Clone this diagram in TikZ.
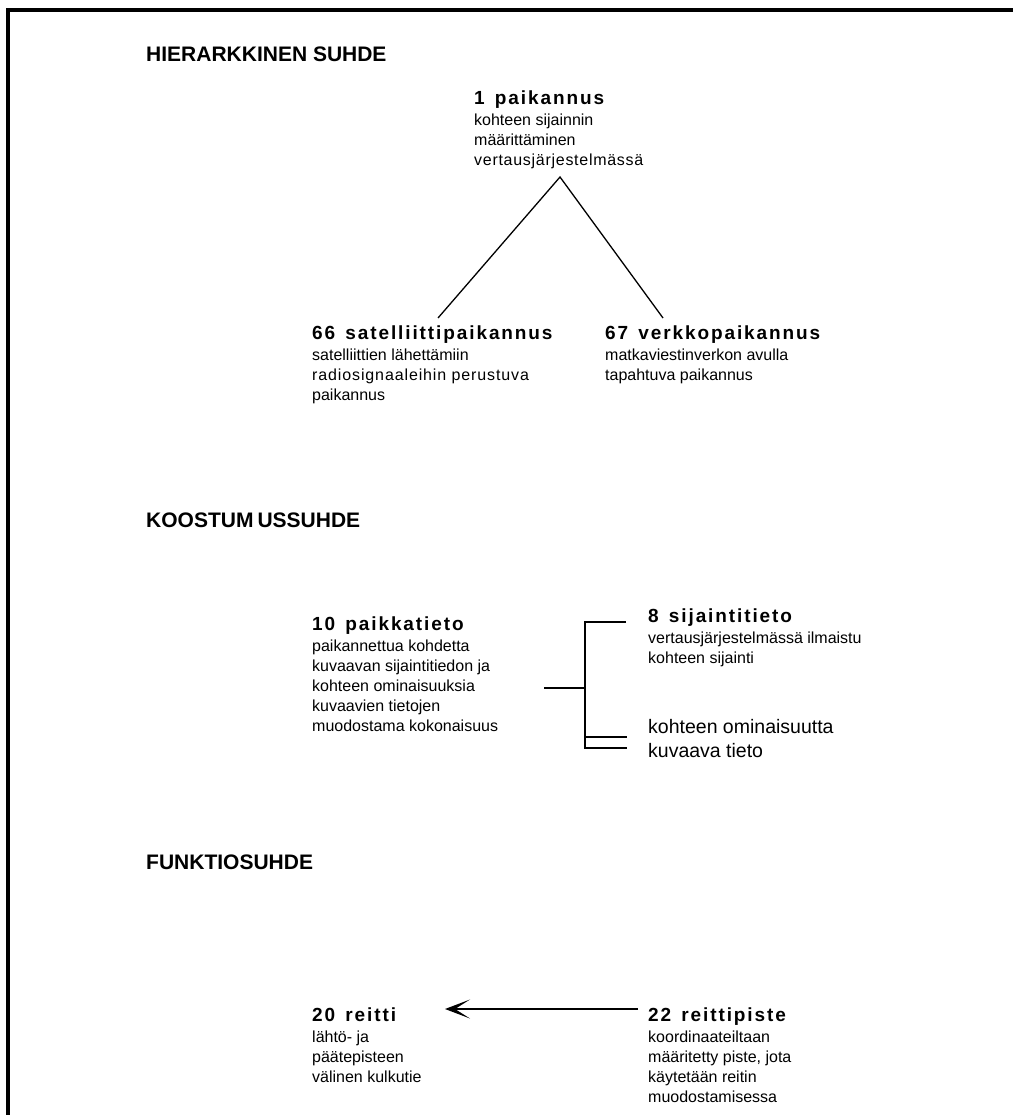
\documentclass[tikz,border=0pt]{standalone}
\usepackage{fontspec}
\setmainfont{Liberation Sans}
\newfontfamily\termfamily{Liberation Sans}[LetterSpace=10]
\usetikzlibrary{arrows.meta}
% bold, tracked term heading: number and term
\newcommand\conceptterm[2]{\rule{0pt}{14pt}{\termfamily\bfseries\fontsize{19}{20}\selectfont #1\hspace{3pt} #2}}
% a definition line set slightly wider
\newcommand\wideline[2]{{\addfontfeatures{LetterSpace=#1}#2}}
\begin{document}
\begin{tikzpicture}[x=1pt,y=-1pt,
  header/.style={anchor=base west, inner sep=0, font=\fontsize{21}{25}\selectfont\bfseries},
  concept/.style={anchor=north west, inner sep=0, align=left, font=\fontsize{16}{20}\selectfont},
  link/.style={line width=1.3pt},
  frame/.style={line width=3.3pt, line join=miter},
]
\useasboundingbox (0,0) rectangle (1013,1115);
% open frame: left and top edges
\draw[frame] (8,1115) -- (8,10) -- (1013,10);

% section headings
\node[header] (h1) at (146,62) {HIERARKKINEN SUHDE};
\node[header] (h2) at (146,527) {KOOSTUM\kern4pt USSUHDE};
\node[header] (h3) at (146,869) {FUNKTIOSUHDE};

% hierarchical relation
\node[concept] (n1) at (474,90) {\conceptterm{1}{paikannus}\\[1pt]
  kohteen sijainnin\\ määrittäminen\\ \wideline{4.5}{vertausjärjestelmässä}};
\node[concept] (n66) at (312,325) {\conceptterm{66}{satelliittipaikannus}\\[1pt]
  satelliittien lähettämiin\\ \wideline{5.5}{radiosignaaleihin perustuva}\\ paikannus};
\node[concept] (n67) at (605,325) {\conceptterm{67}{verkkopaikannus}\\[1pt]
  matkaviestinverkon avulla\\ tapahtuva paikannus};
\coordinate (apex) at (560,177);
\coordinate (footL) at (438,318);
\coordinate (footR) at (663,318);
\draw[link] (footL) -- (apex) -- (footR);

% partitive relation
\node[concept] (n10) at (312,616) {\conceptterm{10}{paikkatieto}\\[1pt]
  paikannettua kohdetta\\ kuvaavan sijaintitiedon ja\\ kohteen ominaisuuksia\\
  kuvaavien tietojen\\ muodostama kokonaisuus};
\node[concept] (n8) at (648,608) {\conceptterm{8}{sijaintitieto}\\[1pt]
  vertausjärjestelmässä ilmaistu\\ kohteen sijainti};
\node[concept, font=\fontsize{19.5}{24}\selectfont] (nprop) at (648,718)
  {\rule{0pt}{15pt}kohteen ominaisuutta\\ kuvaava tieto};
\coordinate (stem) at (544,688);
\coordinate (spineTop) at (585,622);
\coordinate (spineMid) at (585,688);
\coordinate (spineA) at (585,737);
\coordinate (spineB) at (585,748);
\coordinate (endTop) at (626,622);
\coordinate (endA) at (627,737);
\coordinate (endB) at (627,748);
\draw[line width=1.2pt] (stem) -- (spineMid);
\draw[line width=1.2pt] (endTop) -- (spineTop) -- (spineB) -- (endB);
\draw[line width=1.2pt] (spineA) -- (endA);

% functional relation
\node[concept] (n20) at (312,1007) {\conceptterm{20}{reitti}\\[1pt]
  lähtö- ja\\ päätepisteen\\ välinen kulkutie};
\node[concept] (n22) at (648,1007) {\conceptterm{22}{reittipiste}\\[1pt]
  koordinaateiltaan\\ määritetty piste, jota\\ käytetään reitin\\ muodostamisessa};
\coordinate (arrowTail) at (638,1009);
\coordinate (arrowTip) at (445,1009);
\draw[link, -{Stealth[length=25pt, width=19pt, inset=15pt]}] (arrowTail) -- (arrowTip);
\end{tikzpicture}
\end{document}
